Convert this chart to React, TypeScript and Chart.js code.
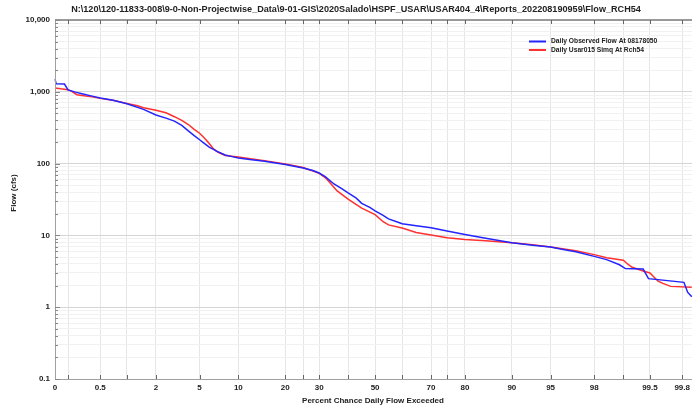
import React, { useEffect, useRef } from 'react';
import { Chart, LineController, LineElement, PointElement, LinearScale, LogarithmicScale } from 'chart.js';

const TITLE = 'N:\\120\\120-11833-008\\9-0-Non-Projectwise_Data\\9-01-GIS\\2020Salado\\HSPF_USAR\\USAR404_4\\Reports_202208190959\\Flow_RCH54';
const X_TITLE = 'Percent Chance Daily Flow Exceeded';
const Y_TITLE = 'Flow (cfs)';
const SERIES_NAMES = ['Daily Observed Flow At 08178050', 'Daily Usar015 Simq At Rch54'];

// percent exceedance ticks (probability axis)
const xTickPercents = [0, 0.2, 0.5, 1, 2, 5, 10, 20, 25, 30, 40, 50, 60, 70, 75, 80, 90, 95, 98, 99, 99.5, 99.8];
const xLabeledPercents = [0, 0.5, 2, 5, 10, 20, 30, 50, 70, 80, 90, 95, 98, 99.5, 99.8];
const yDecades = [0.1, 1, 10, 100, 1000, 10000];
const yDecadeLabels = ['0.1', '1', '10', '100', '1,000', '10,000'];

const observedPct = [0, 0.14, 0.18, 0.2, 0.25, 0.3, 0.4, 0.5, 0.7, 1, 1.5, 2, 2.5, 3, 3.5, 4, 4.5, 5, 5.5, 6, 7, 8, 9, 10, 12, 15, 20, 25, 28, 30, 32, 35, 38, 40, 43, 45, 48, 50, 53, 55, 58, 60, 65, 70, 75, 80, 85, 90, 93, 95, 96, 97, 98, 98.5, 98.9, 99.05, 99.4, 99.48, 99.81, 99.83, 99.85];
const observedFlow = [1500, 1290, 1280, 1060, 990, 940, 870, 820, 760, 680, 570, 475, 430, 390, 340, 285, 245, 215, 190, 170, 147, 132, 125, 120, 114, 108, 97, 87, 80, 74, 66, 52, 44, 39, 33, 28, 24.5, 22, 19, 17, 15.5, 14.5, 13.6, 12.8, 11.5, 10.3, 9.1, 7.9, 7.3, 6.9, 6.4, 5.9, 5.1, 4.6, 3.9, 3.45, 3.4, 2.5, 2.22, 1.62, 1.4];

const simPct = [0, 0.16, 0.2, 0.22, 0.26, 0.3, 0.4, 0.5, 0.7, 1, 1.3, 1.5, 2, 2.5, 3, 3.5, 4, 4.5, 5, 5.5, 6, 6.5, 7, 8, 10, 15, 20, 25, 30, 32, 34, 36, 40, 45, 50, 53, 55, 60, 65, 70, 75, 80, 85, 90, 93, 95, 97, 98, 98.5, 99, 99.1, 99.2, 99.4, 99.5, 99.6, 99.65, 99.72, 99.85];
const simFlow = [1130, 1100, 1070, 1020, 910, 890, 850, 810, 760, 690, 640, 600, 555, 510, 450, 400, 350, 300, 265, 225, 190, 160, 145, 130, 124, 110, 99, 88, 73, 64, 52, 42, 32, 24, 19.5, 15.5, 14, 12.7, 11, 10.1, 9.3, 8.8, 8.4, 7.9, 7.4, 6.9, 6.1, 5.4, 4.9, 4.5, 4.0, 3.6, 3.2, 3.0, 2.3, 2.15, 1.95, 1.9];

const Z_MIN = -3.0;
const Z_MAX = 2.97;

function invNorm(p: number): number {
  const a = [-3.969683028665376e1, 2.209460984245205e2, -2.759285104469687e2, 1.38357751867269e2, -3.066479806614716e1, 2.506628277459239];
  const b = [-5.447609879822406e1, 1.615858368580409e2, -1.556989798598866e2, 6.680131188771972e1, -1.328068155288572e1];
  const c = [-7.784894002430293e-3, -3.223964580411365e-1, -2.400758277161838, -2.549732539343734, 4.374664141464968, 2.938163982698783];
  const d = [7.784695709041462e-3, 3.224671290700398e-1, 2.445134137142996, 3.754408661907416];
  const pl = 0.02425;
  if (p < pl) {
    const q = Math.sqrt(-2 * Math.log(p));
    return (((((c[0] * q + c[1]) * q + c[2]) * q + c[3]) * q + c[4]) * q + c[5]) / ((((d[0] * q + d[1]) * q + d[2]) * q + d[3]) * q + 1);
  }
  if (p <= 1 - pl) {
    const q = p - 0.5;
    const r = q * q;
    return (((((a[0] * r + a[1]) * r + a[2]) * r + a[3]) * r + a[4]) * r + a[5]) * q / (((((b[0] * r + b[1]) * r + b[2]) * r + b[3]) * r + b[4]) * r + 1);
  }
  const q = Math.sqrt(-2 * Math.log(1 - p));
  return -(((((c[0] * q + c[1]) * q + c[2]) * q + c[3]) * q + c[4]) * q + c[5]) / ((((d[0] * q + d[1]) * q + d[2]) * q + d[3]) * q + 1);
}

function toZ(pct: number): number {
  if (pct <= 0) return Z_MIN;
  if (pct >= 100) return Z_MAX;
  const z = invNorm(pct / 100);
  return Math.max(Z_MIN, Math.min(Z_MAX, z));
}

class ProbabilityScale extends (LinearScale as any) {
  static id = 'probability';
  static defaults = {};
  determineDataLimits() {
    (this as any).min = Z_MIN;
    (this as any).max = Z_MAX;
  }
  buildTicks() {
    return xTickPercents.map((v) => ({ value: v }));
  }
  getPixelForValue(value: number) {
    const self = this as any;
    if (value === null || value === undefined) return NaN;
    return self.getPixelForDecimal((toZ(value) - self.min) / (self.max - self.min));
  }
  getValueForPixel(pixel: number) {
    const self = this as any;
    const z = self.min + self.getDecimalForPixel(pixel) * (self.max - self.min);
    return z;
  }
}

Chart.register(LineController, LineElement, PointElement, LinearScale, LogarithmicScale, ProbabilityScale as any);

const FONT = '"Liberation Sans", Arial, sans-serif';

const decorPlugin = {
  id: 'decor',
  afterDatasetsDraw(chart: any) {
    const { ctx, chartArea: ca, scales } = chart;
    const xs = scales.x;
    const ys = scales.y;
    ctx.save();
    // frame
    ctx.strokeStyle = '#a0a0a0';
    ctx.lineWidth = 1;
    ctx.beginPath();
    ctx.moveTo(ca.left + 0.5, ca.top);
    ctx.lineTo(ca.left + 0.5, ca.bottom + 0.5);
    ctx.lineTo(ca.right, ca.bottom + 0.5);
    ctx.stroke();
    ctx.strokeStyle = '#999999';
    ctx.lineWidth = 2;
    ctx.beginPath();
    ctx.moveTo(ca.left, ca.top);
    ctx.lineTo(ca.right, ca.top);
    ctx.stroke();
    // x tick marks (top and bottom, inward)
    ctx.strokeStyle = '#666666';
    ctx.lineWidth = 1;
    ctx.beginPath();
    xTickPercents.forEach((p) => {
      if (p === 0) return;
      const x = Math.round(xs.getPixelForValue(p)) + 0.5;
      ctx.moveTo(x, ca.bottom);
      ctx.lineTo(x, ca.bottom - 4);
      ctx.moveTo(x, ca.top);
      ctx.lineTo(x, ca.top + 4);
    });
    ctx.stroke();
    // y tick marks (left, inward)
    ctx.strokeStyle = '#888888';
    ctx.beginPath();
    ys.ticks.forEach((t: any) => {
      const y = Math.round(ys.getPixelForValue(t.value)) + 0.5;
      const major = yDecades.some((d) => Math.abs(d - t.value) < d * 1e-6);
      ctx.moveTo(ca.left, y);
      ctx.lineTo(ca.left + (major ? 5 : 3), y);
    });
    ctx.stroke();
    // legend
    const lx = 529;
    const colors = ['#2424ff', '#ff3030'];
    const ly = [41.5, 50];
    ctx.lineWidth = 2;
    SERIES_NAMES.forEach((name, i) => {
      ctx.strokeStyle = colors[i];
      ctx.beginPath();
      ctx.moveTo(lx, ly[i]);
      ctx.lineTo(lx + 17, ly[i]);
      ctx.stroke();
      ctx.fillStyle = '#222222';
      ctx.font = 'bold 6.7px ' + FONT;
      ctx.textAlign = 'left';
      ctx.textBaseline = 'middle';
      ctx.fillText(name, lx + 22, ly[i]);
    });
    ctx.restore();
  },
  afterDraw(chart: any) {
    const { ctx } = chart;
    ctx.save();
    ctx.fillStyle = '#222222';
    ctx.textBaseline = 'middle';
    ctx.textAlign = 'center';
    ctx.font = 'bold 9.1px ' + FONT;
    ctx.fillText(TITLE, 356, 9);
    ctx.font = 'bold 8px ' + FONT;
    ctx.fillText(X_TITLE, 373, 401);
    ctx.translate(14, 193);
    ctx.rotate(-Math.PI / 2);
    ctx.fillText(Y_TITLE, 0, 0);
    ctx.restore();
  },
};

export default function App() {
  const ref = useRef<HTMLCanvasElement | null>(null);
  useEffect(() => {
    document.body.style.margin = '0';
    const canvas = ref.current;
    if (!canvas) return;
    const chart = new Chart(canvas, {
      type: 'line',
      data: {
        datasets: [
          {
            label: SERIES_NAMES[0],
            data: observedPct.map((p, i) => ({ x: p, y: observedFlow[i] })),
            borderColor: '#2424ff',
            borderWidth: 1.5,
            pointRadius: 0,
            tension: 0,
          },
          {
            label: SERIES_NAMES[1],
            data: simPct.map((p, i) => ({ x: p, y: simFlow[i] })),
            borderColor: '#ff3030',
            borderWidth: 1.5,
            pointRadius: 0,
            tension: 0,
          },
        ],
      },
      options: {
        animation: false,
        responsive: false,
        devicePixelRatio: 1,
        events: [],
        layout: { padding: { top: 20, right: 1, left: 0, bottom: 0 } },
        plugins: { legend: { display: false }, title: { display: false }, tooltip: { enabled: false } },
        scales: {
          x: {
            type: 'probability' as any,
            position: 'bottom',
            afterFit: (s: any) => { s.height = 29; },
            border: { display: false },
            grid: { color: '#e6e6e6', drawTicks: false, lineWidth: 1 },
            ticks: {
              autoSkip: false,
              maxRotation: 0,
              padding: 4,
              color: '#222222',
              font: { family: FONT, size: 8, weight: 'bold' },
              callback: (v: any) => (xLabeledPercents.includes(Number(v)) ? String(v) : ''),
            },
          } as any,
          y: {
            type: 'logarithmic',
            min: 0.1,
            max: 10000,
            afterFit: (s: any) => { s.width = 55; },
            afterBuildTicks: (s: any) => {
              const t: any[] = [];
              for (let di = 0; di < yDecades.length; di++) {
                const d = yDecades[di];
                if (di === yDecades.length - 1) { t.push({ value: d }); break; }
                for (let k = 1; k <= 9; k++) t.push({ value: Number((d * k).toPrecision(6)) });
              }
              s.ticks = t;
            },
            border: { display: false },
            grid: {
              drawTicks: false,
              color: (c: any) => {
                const v = c.tick ? c.tick.value : 0;
                return yDecades.some((d) => Math.abs(d - v) < d * 1e-6) ? '#d6d6d6' : '#f1f1f1';
              },
            },
            ticks: {
              autoSkip: false,
              padding: 5,
              color: '#222222',
              font: { family: FONT, size: 8, weight: 'bold' },
              callback: (v: any) => {
                const i = yDecades.findIndex((d) => Math.abs(d - Number(v)) < d * 1e-6);
                return i >= 0 ? yDecadeLabels[i] : '';
              },
            },
          } as any,
        },
      },
      plugins: [decorPlugin],
    });
    return () => chart.destroy();
  }, []);
  return (
    <div style={{ width: 694, height: 408, background: '#ffffff' }}>
      <canvas ref={ref} width={694} height={408} />
    </div>
  );
}
